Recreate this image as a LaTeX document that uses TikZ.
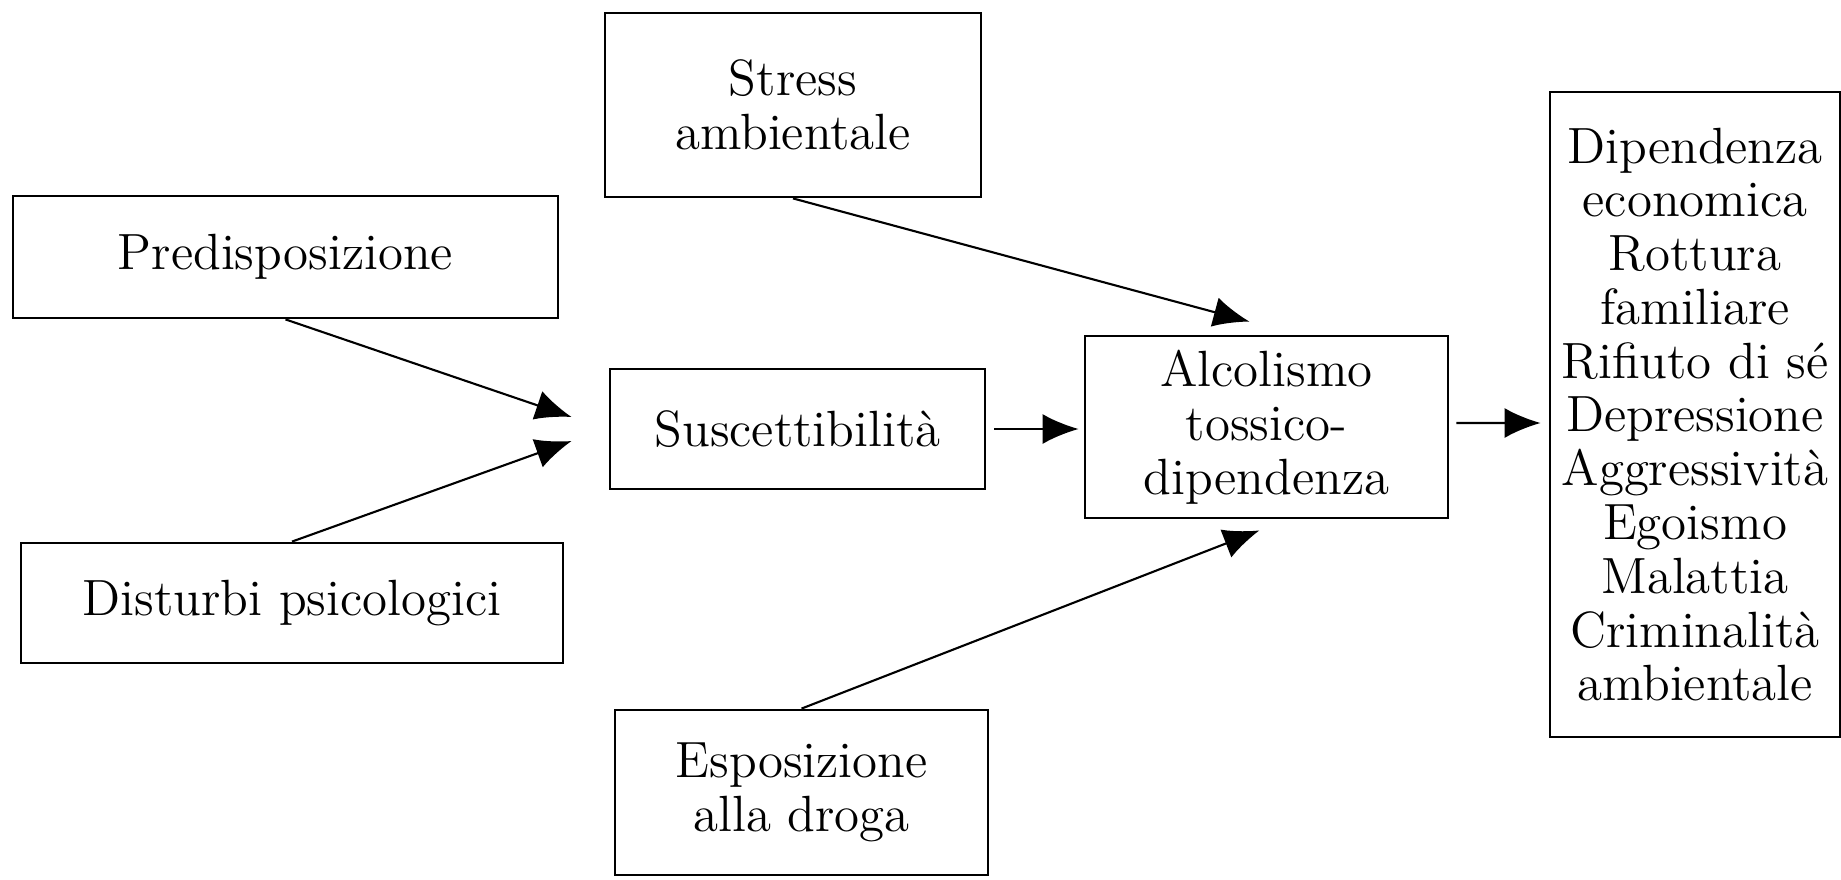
\documentclass[tikz,border=0pt]{standalone}
\usepackage{fontspec}
\usetikzlibrary{arrows.meta}

\begin{document}
\begin{tikzpicture}[
  box/.style={draw, line width=0.8pt, align=center, inner sep=0pt, font=\fontsize{14.5}{15.3}\selectfont},
  arr/.style={-{Latex[length=3.6mm,width=3mm]}, line width=0.6pt}]
\useasboundingbox (0,0) rectangle (18.41,8.79);

\node[box, minimum width=3.76cm, minimum height=1.84cm] (stress) at (7.93,7.74) {Stress\\ambientale};
\node[box, minimum width=5.45cm, minimum height=1.22cm] (predis) at (2.855,6.22) {Predisposizione};
\node[box, minimum width=5.42cm, minimum height=1.20cm] (disturbi) at (2.92,2.76) {Disturbi psicologici};
\node[box, minimum width=3.75cm, minimum height=1.20cm] (susc) at (7.975,4.50) {Suscettibilità};
\node[box, minimum width=3.63cm, minimum height=1.82cm] (alcol) at (12.665,4.52) {Alcolismo\\tossico-\\dipendenza};
\node[box, minimum width=3.73cm, minimum height=1.65cm] (espos) at (8.015,0.865) {Esposizione\\alla droga};
\node[box, minimum width=2.90cm, minimum height=6.45cm] (esito) at (16.95,4.645) {Dipendenza\\economica\\Rottura\\familiare\\Rifiuto di sé\\Depressione\\Aggressività\\Egoismo\\Malattia\\Criminalità\\ambientale};

\coordinate (inA) at ([shift={(-0.37,0.12)}]susc.west);
\coordinate (inB) at ([shift={(-0.37,-0.12)}]susc.west);
\draw[arr] (predis.south) -- (inA);
\draw[arr] (disturbi.north) -- (inB);
\draw[arr] (stress.south) -- ([shift={(-0.17,0.13)}]alcol.north);
\draw[arr] (espos.north) -- ([shift={(-0.07,-0.11)}]alcol.south);
\draw[arr] ([xshift=0.8mm]susc.east) -- ([xshift=-0.5mm]susc.east -| alcol.west);
\draw[arr] ([shift={(0.07,0.04)}]alcol.east) -- ([xshift=-0.8mm,yshift=0.4mm]alcol.east -| esito.west);
\end{tikzpicture}
\end{document}
